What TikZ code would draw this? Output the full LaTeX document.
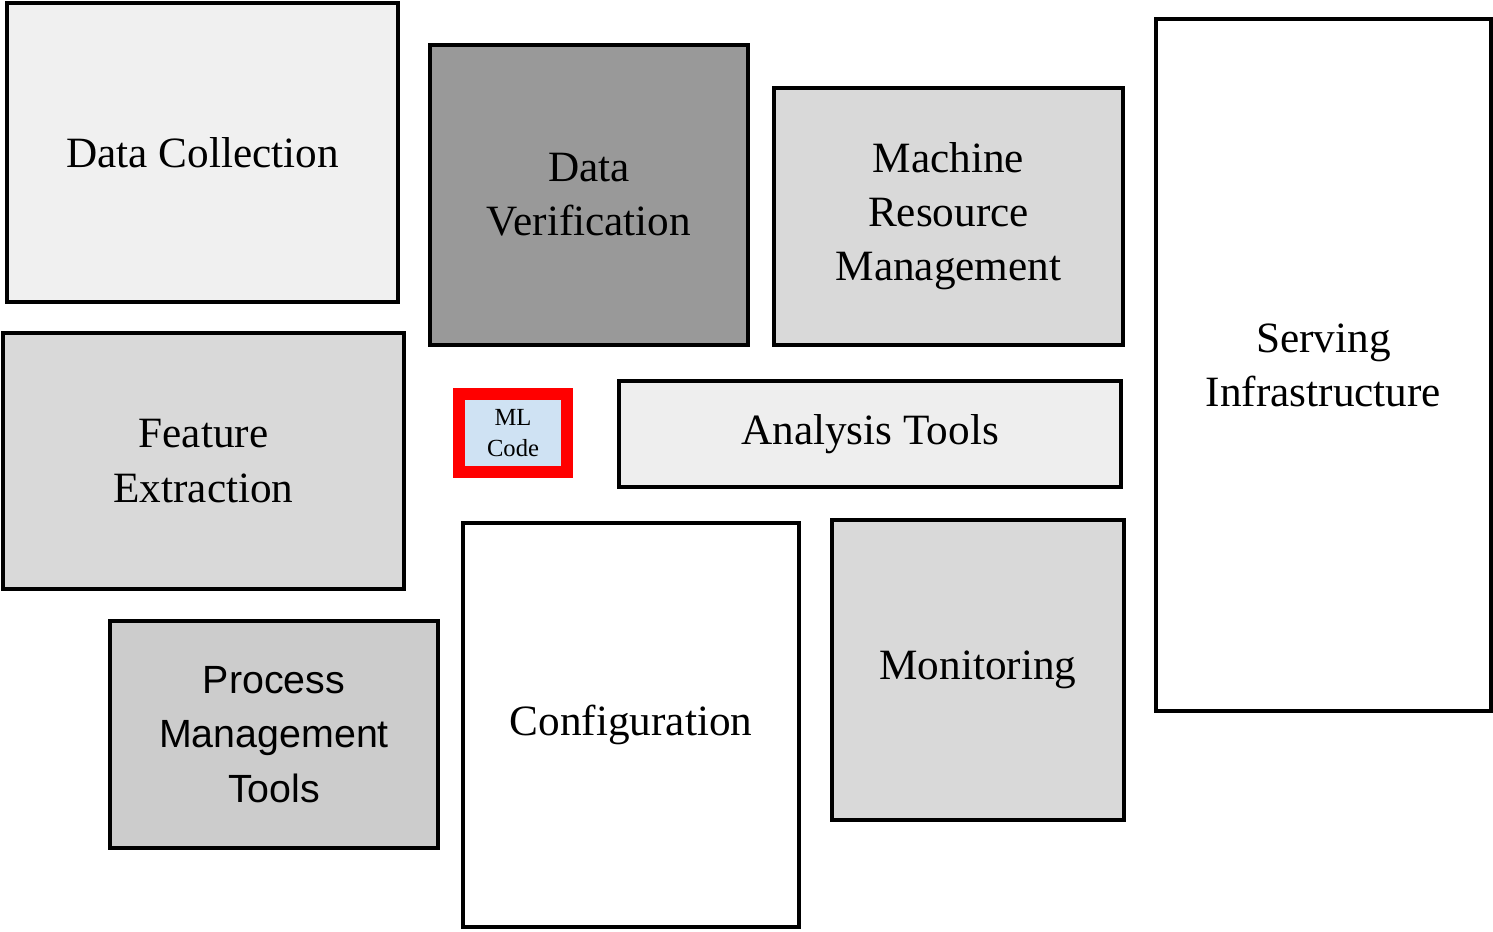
\documentclass[tikz,border=0pt]{standalone}
\usepackage{fontspec}
\setmainfont{Liberation Serif}
\newfontfamily\armfont{Liberation Sans}
\usepackage{xcolor}
\definecolor{pale}{RGB}{240, 240, 240}
\definecolor{dark}{RGB}{153, 153, 153}
\definecolor{mid}{RGB}{217, 217, 217}
\definecolor{light}{RGB}{238, 238, 238}
\definecolor{proc}{RGB}{204, 204, 204}
\definecolor{code}{RGB}{207, 226, 243}
\definecolor{hl}{RGB}{255, 0, 0}
\tikzset{
  part/.style={draw=black, line width=1.3pt, rectangle, align=center,
    font=\fontsize{12.3}{15.4}\selectfont, inner sep=0pt}
}

\begin{document}
\begin{tikzpicture}
      \useasboundingbox (0, 0) rectangle (14.93, -9.31);
      \node[part, fill=pale, minimum width=3.91cm, minimum height=2.99cm](dc) at (2.025, -1.525) {Data Collection};
      \node[part, fill=dark, minimum width=3.18cm, minimum height=3.0cm](dv) at (5.89, -1.95) {Data\\Verification};
      \node[part, fill=mid, minimum width=3.49cm, minimum height=2.57cm](mrm) at (9.485, -2.165) {Machine\\Resource\\Management};
      \node[part, fill=white, minimum width=3.35cm, minimum height=6.92cm](si) at (13.235, -3.65) {Serving\\Infrastructure};
      \node[part, fill=mid, minimum width=4.01cm, minimum height=2.56cm](fe) at (2.035, -4.61) {Feature\\Extraction};
      \node[part, draw=hl, line width=3.4pt, fill=code, minimum width=1.08cm, minimum height=0.78cm,
        font=\fontsize{7}{8.8}\selectfont](ml) at (5.13, -4.33) {ML\\Code};
      \node[part, fill=light, minimum width=5.02cm, minimum height=1.06cm](at) at (8.70, -4.34) {Analysis Tools};
      \node[part, fill=proc, minimum width=3.28cm, minimum height=2.27cm,
        font=\armfont\fontsize{11.2}{15.4}\selectfont](pmt) at (2.74, -7.345) {Process\\Management\\Tools};
      \node[part, fill=white, minimum width=3.36cm, minimum height=4.04cm](cf) at (6.31, -7.25) {Configuration};
      \node[part, fill=mid, minimum width=2.92cm, minimum height=3.0cm](mon) at (9.78, -6.70) {Monitoring};
    \end{tikzpicture}
\end{document}
